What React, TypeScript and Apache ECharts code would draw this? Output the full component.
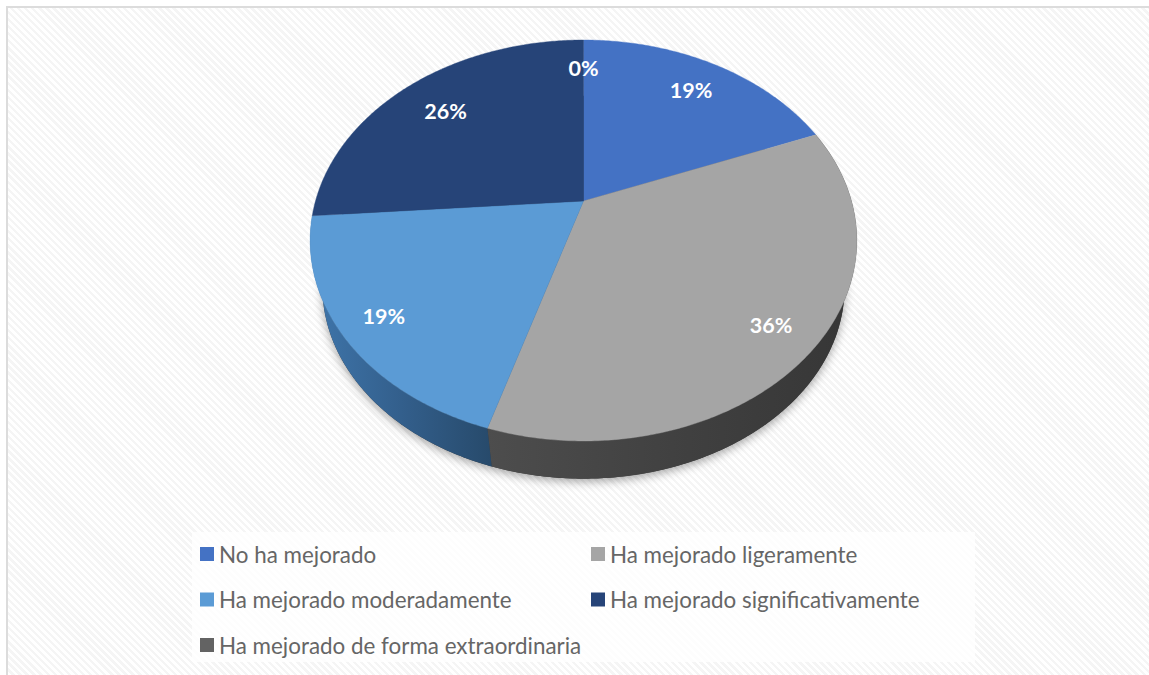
import React, { useEffect, useRef } from "react";
import * as echarts from "echarts";

const sliceNames = [
  "No ha mejorado",
  "Ha mejorado ligeramente",
  "Ha mejorado moderadamente",
  "Ha mejorado significativamente",
  "Ha mejorado de forma extraordinaria",
];
const sliceValues = [19, 35.7, 19.1, 26.2, 0];
const sliceColors = ["#4472c4", "#a5a5a5", "#5b9bd5", "#264478", "#636363"];

// Perspective projection of the disc
const CX = 583.5, CY = 201, A = 268, B = 192.7, K = 0.197;
const DROP_SCALE = 0.955, DROP_CY = 249.5;
const LABEL_R = 0.8;
const LABEL_NUDGE = [[1, 2], [11, 7], [-14, 8], [4, 5], [0, 0]];
const SIDE_STOPS: Record<number, string[]> = {
  1: ["#4d4d4d", "#414141", "#363636"],
  2: ["#3f76ab", "#335f8c", "#274a6b"],
};

const total = sliceValues.reduce((a, b) => a + b, 0);
const starts = sliceValues.map((_, i) => sliceValues.slice(0, i).reduce((a, b) => a + b, 0));

function top(theta: number, r = 1) {
  const u = r * Math.sin(theta), v = -r * Math.cos(theta), w = 1 - K * v;
  return [CX + (A * u) / w, CY + (B * v) / w];
}
function low(theta: number) {
  const [x, y] = top(theta);
  return [CX + (x - CX) * DROP_SCALE, DROP_CY + (y - CY) * DROP_SCALE];
}
function rim(a: number, b: number, f: (t: number) => number[]) {
  const n = Math.max(2, Math.ceil((b - a) / 0.01));
  const pts: number[][] = [];
  for (let i = 0; i <= n; i++) pts.push(f(a + ((b - a) * i) / n));
  return pts;
}
const angle = (v: number) => (v / total) * Math.PI * 2;

const topSeries = sliceNames.map((name, i) => ({
  type: "custom",
  name,
  coordinateSystem: "none",
  silent: true,
  z: 4,
  itemStyle: { color: sliceColors[i] },
  data: [[sliceValues[i]]],
  renderItem: (_: any, api: any) => {
    const value = api.value(0) as number;
    const a = angle(starts[i]), b = angle(starts[i] + value);
    const mid = top((a + b) / 2, LABEL_R);
    const children: any[] = [];
    if (value > 0) {
      children.push({
        type: "polygon",
        shape: { points: [[CX, CY], ...rim(a, b, top)] },
        style: { fill: sliceColors[i], stroke: sliceColors[i], lineWidth: 0.4 },
      });
    }
    children.push({
      type: "text",
      x: mid[0] + LABEL_NUDGE[i][0],
      y: mid[1] + LABEL_NUDGE[i][1],
      style: {
        text: `${Math.round(value)}%`,
        fill: "#ffffff",
        font: 'bold 21.5px Lato, sans-serif',
        textAlign: "center",
        textVerticalAlign: "middle",
      },
    });
    return { type: "group", children };
  },
}));

const sideSeries = {
  type: "custom",
  name: "side",
  coordinateSystem: "none",
  silent: true,
  z: 3,
  data: sliceValues.map((v) => [v]),
  renderItem: (p: any, api: any) => {
    const i = p.dataIndex as number;
    const stops = SIDE_STOPS[i];
    if (!stops) return { type: "group", children: [] };
    const a = angle(starts[i]), b = angle(starts[i] + (api.value(0) as number));
    return {
      type: "polygon",
      shape: { points: [...rim(a, b, top), ...rim(a, b, low).reverse()] },
      style: {
        fill: new echarts.graphic.LinearGradient(0, 0, 1, 0, [
          { offset: 0, color: stops[0] },
          { offset: 0.5, color: stops[1] },
          { offset: 1, color: stops[2] },
        ]),
      },
    };
  },
};

const shadowSeries = {
  type: "custom",
  name: "shadow",
  coordinateSystem: "none",
  silent: true,
  z: 2,
  data: [[total]],
  renderItem: () => ({
    type: "polygon",
    shape: { points: rim(0, Math.PI * 2, low) },
    style: {
      fill: "#3a3a3a",
      shadowBlur: 10,
      shadowColor: "rgba(0,0,0,0.35)",
      shadowOffsetX: 0,
      shadowOffsetY: 3,
    },
  }),
};

const legendBase = {
  orient: "vertical",
  icon: "rect",
  padding: 0,
  itemWidth: 14,
  itemHeight: 14,
  itemGap: 21.5,
  selectedMode: false,
  textStyle: { color: "#666666", fontFamily: "Lato, sans-serif", fontSize: 22.4, lineHeight: 24 },
};

export default function App() {
  const ref = useRef<HTMLDivElement>(null);
  useEffect(() => {
    const chart = echarts.init(ref.current!, null, { renderer: "svg" });
    chart.setOption({
      animation: false,
      backgroundColor: "transparent",
      legend: [
        { ...legendBase, left: 200, top: 542, data: [sliceNames[0], sliceNames[2], sliceNames[4]] },
        { ...legendBase, left: 591, top: 542, data: [sliceNames[1], sliceNames[3]] },
      ],
      graphic: [
        {
          type: "rect",
          z: 0,
          shape: { x: 192, y: 532, width: 783, height: 130 },
          style: { fill: "rgba(255,255,255,0.82)" },
          silent: true,
        },
      ],
      series: [shadowSeries, sideSeries, ...topSeries],
    });
    return () => chart.dispose();
  }, []);
  return (
    <div style={{ position: "absolute", left: 0, top: 0, width: 1149, height: 675, background: "#ffffff", overflow: "hidden" }}>
      <div
        style={{
          position: "absolute",
          left: 6,
          top: 6,
          right: 0,
          bottom: 0,
          boxSizing: "border-box",
          borderLeft: "2px solid #dcdcdc",
          borderTop: "2px solid #dcdcdc",
          background: "repeating-linear-gradient(45deg, #ffffff 0px, #ffffff 2.6px, #f5f5f5 2.6px, #f5f5f5 5px)",
        }}
      />
      <div ref={ref} style={{ position: "absolute", left: 0, top: 0, width: 1149, height: 675 }} />
    </div>
  );
}
